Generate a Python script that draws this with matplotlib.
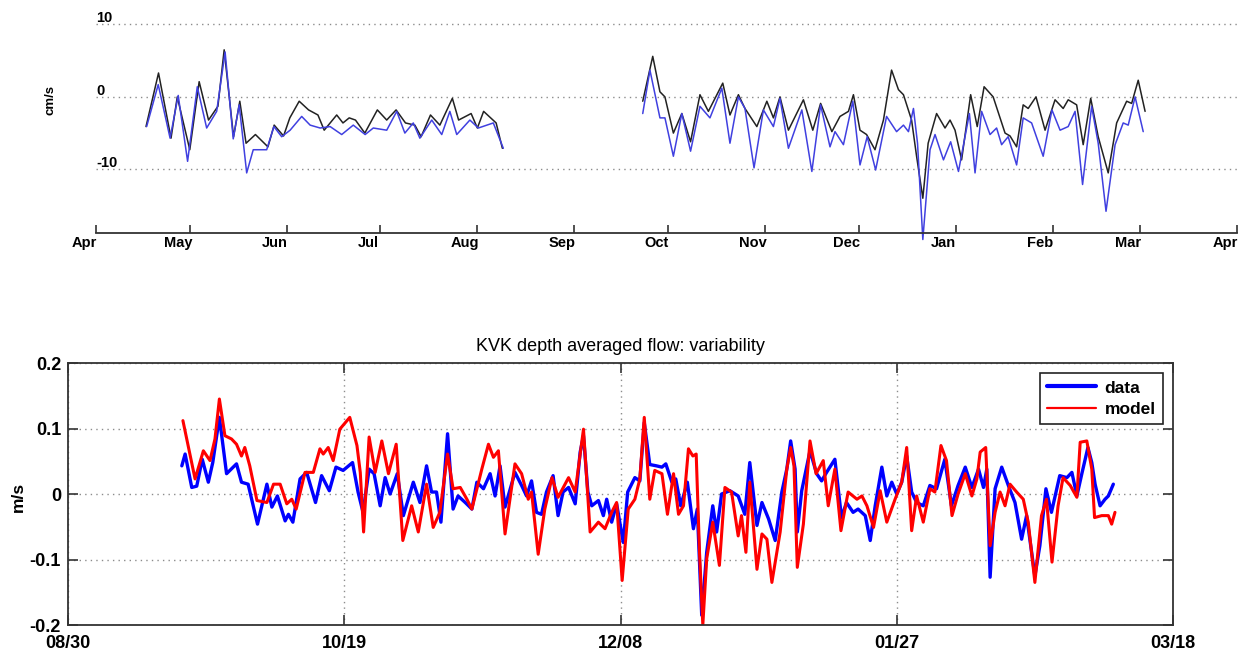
import numpy as np
import matplotlib
matplotlib.use("Agg")
import matplotlib.pyplot as plt
import matplotlib.dates as mdates
import matplotlib.transforms as mtransforms
from datetime import datetime

plt.rcParams["font.family"] = ["Liberation Sans", "DejaVu Sans"]

# ---------------- upper panel: cm/s, days since 1 Apr 2010 ----------------
top_start = datetime(2010, 4, 1)

# spring/summer record
black1_day = [16, 20, 24, 26, 30, 33, 36, 39, 41, 44, 46, 48, 51, 55, 57, 60, 62, 65, 68, 71,
              73, 77, 79, 81, 83, 86, 90, 93, 96, 99, 102, 104, 107, 110, 114, 116, 120, 122,
              124, 128, 130]
black1_val = [-4.1, 3.3, -5.7, 0.0, -7.3, 2.1, -3.2, -1.3, 6.5, -5.5, -0.6, -6.4, -5.2, -6.9,
              -3.9, -5.4, -2.9, -0.6, -1.8, -2.5, -4.6, -2.5, -3.6, -2.9, -3.2, -5.0, -1.8,
              -3.2, -1.8, -3.6, -3.9, -5.5, -2.5, -3.9, -0.2, -3.2, -2.3, -4.3, -2.0, -3.6, -7.1]
blue1_day = [16.2, 19.9, 23.7, 26.3, 29.3, 32.4, 35.4, 38.6, 41.3, 43.9, 45.8, 48.2, 50.3, 54.6,
             56.9, 59.4, 62.1, 65.8, 68.5, 71.7, 74.9, 78.6, 82.3, 86.1, 88.7, 93.0, 96.2, 98.8,
             101.5, 103.6, 107.4, 110.6, 113.2, 115.4, 119.6, 122.3, 127.1, 130.3]
blue1_val = [-4.1, 1.7, -5.7, 0.2, -8.9, 1.4, -4.3, -2.0, 6.2, -5.8, -1.1, -10.5, -7.3, -7.3,
             -4.1, -5.5, -4.6, -2.7, -3.9, -4.3, -4.1, -5.2, -3.9, -5.2, -4.3, -4.6, -2.0, -5.0,
             -3.6, -5.7, -3.2, -5.2, -2.0, -5.2, -3.2, -4.3, -3.6, -7.1]

# autumn/winter record
black2_day = [174.9, 178.1, 180.4, 182.0, 184.7, 187.4, 190.2, 193.2, 195.9, 200.5, 202.8, 205.5,
              207.6, 211.4, 214.6, 216.7, 218.8, 221.5, 226.3, 229.3, 231.8, 235.4, 238.0, 240.7,
              242.3, 244.4, 246.5, 249.2, 251.9, 254.5, 256.7, 258.3, 260.9, 262.5, 264.5, 266.2,
              268.9, 271.6, 273.2, 274.8, 276.9, 279.8, 281.9, 284.1, 287.0, 290.8, 292.4, 294.5,
              296.6, 298.2, 300.7, 303.6, 306.8, 309.4, 311.0, 313.7, 315.8, 318.2, 320.6, 323.8,
              326.5, 329.7, 331.3, 333.4, 335.6]
black2_val = [-0.6, 5.6, 0.7, 0.0, -5.0, -2.3, -6.2, 0.3, -2.0, 1.9, -2.5, 0.3, -1.6, -4.1, -0.6,
              -2.9, 0.0, -4.6, -0.4, -4.6, -0.9, -4.8, -2.7, -2.0, 0.3, -4.6, -5.2, -7.3, -3.2,
              3.7, 1.0, 0.3, -3.2, -8.2, -14.0, -6.4, -2.3, -4.3, -3.2, -4.6, -8.7, 0.3, -4.1,
              1.4, 0.0, -5.0, -5.4, -6.9, -1.1, -1.6, 0.0, -4.6, -0.4, -1.6, -0.4, -1.1, -6.6,
              -0.2, -5.5, -10.5, -3.6, -0.6, -0.9, 2.3, -2.0]
blue2_day = [174.9, 177.2, 180.4, 182.0, 184.7, 187.4, 190.2, 193.2, 196.4, 200.2, 202.8, 205.5,
             207.6, 210.5, 213.5, 216.7, 218.8, 221.5, 225.8, 229.0, 231.8, 234.8, 236.4, 239.1,
             242.1, 244.4, 246.7, 249.4, 252.9, 256.1, 258.3, 259.9, 261.5, 262.8, 264.5, 266.8,
             268.4, 271.1, 273.4, 275.9, 279.4, 281.2, 283.3, 286.0, 288.1, 289.7, 291.8, 294.5,
             296.6, 299.3, 303.0, 305.8, 308.4, 311.0, 313.2, 315.6, 318.5, 320.6, 323.1, 326.0,
             328.6, 330.2, 332.4, 335.0]
blue2_val = [-2.3, 3.7, -2.9, -2.9, -8.2, -2.3, -7.5, -1.3, -2.9, 1.2, -6.4, 0.0, -1.6, -9.8,
             -1.8, -4.1, -0.2, -7.1, -1.8, -10.3, -1.1, -6.9, -4.8, -6.6, -0.6, -9.4, -5.5,
             -10.1, -2.7, -4.8, -3.9, -4.8, -1.6, -6.4, -19.7, -7.3, -5.2, -8.7, -6.2, -10.3,
             -2.3, -10.5, -2.0, -5.2, -4.3, -6.6, -5.5, -9.4, -2.9, -3.6, -8.2, -1.8, -4.6, -4.1,
             -2.0, -12.1, -1.3, -6.4, -15.8, -6.6, -3.6, -3.9, 0.0, -4.8]

top_yticks = [-10, 0, 10]
top_ylabels = ["-10", "0", "10"]

# ---------------- lower panel: m/s, days since 30 Aug 2010 ----------------
bot_start = datetime(2010, 8, 30)

data_day = [20.6, 21.2, 22.4, 23.3, 24.3, 25.4, 26.2, 27.4, 28.7, 30.5, 31.4, 32.6, 34.3, 36.0,
            36.9, 37.9, 39.3, 39.9, 40.7, 42.0, 43.2, 44.8, 45.9, 47.3, 48.5, 49.8, 51.5, 52.5,
            53.4, 54.5, 55.4, 56.5, 57.4, 58.3, 59.6, 60.7, 62.5, 63.7, 64.9, 65.8, 66.7, 67.5,
            68.7, 69.7, 70.6, 71.9, 73.1, 74.0, 75.2, 76.4, 77.3, 78.2, 79.1, 80.9, 82.1, 83.0,
            83.9, 84.8, 85.7, 86.6, 87.8, 88.7, 89.6, 90.6, 91.8, 92.7, 93.3, 94.1, 94.8, 96.0,
            96.9, 97.5, 98.4, 99.3, 100.5, 101.3, 102.6, 103.5, 104.3, 105.3, 106.5, 107.5,
            108.2, 109.3, 110.0, 110.9, 112.1, 113.2, 113.9, 114.7, 115.6, 116.7, 117.4, 118.3,
            119.8, 121.3, 122.5, 123.4, 124.7, 125.6, 126.8, 128.0, 129.2, 130.1, 130.8, 131.6,
            132.0, 132.8, 134.3, 135.5, 136.4, 137.3, 138.8, 140.0, 140.9, 142.1, 143.0, 144.3,
            145.2, 146.1, 147.3, 148.2, 149.1, 150.0, 150.9, 151.8, 152.7, 153.6, 154.8, 156.0,
            157.2, 158.7, 159.9, 161.1, 162.4, 163.6, 164.8, 165.7, 166.3, 166.9, 167.8, 169.0,
            170.2, 171.4, 172.6, 173.5, 175.0, 175.9, 177.0, 178.0, 179.5, 180.8, 181.7, 182.6,
            183.5, 184.6, 185.3, 185.9, 186.8, 187.7, 188.3, 189.2]
data_val = [0.043, 0.061, 0.010, 0.012, 0.053, 0.018, 0.048, 0.117, 0.031, 0.046, 0.018, 0.015,
            -0.046, 0.015, -0.020, -0.003, -0.041, -0.031, -0.043, 0.023, 0.033, -0.013, 0.028,
            0.005, 0.041, 0.036, 0.048, 0.003, -0.028, 0.038, 0.031, -0.018, 0.025, 0.000, 0.031,
            -0.033, 0.018, -0.013, 0.043, 0.003, 0.003, -0.043, 0.092, -0.023, -0.003, -0.013,
            -0.023, 0.018, 0.008, 0.031, -0.003, 0.043, -0.020, 0.033, 0.013, -0.003, 0.020,
            -0.028, -0.031, 0.003, 0.028, -0.033, 0.003, 0.010, -0.015, 0.064, 0.089, 0.003,
            -0.018, -0.010, -0.033, -0.008, -0.043, -0.015, -0.074, 0.003, 0.025, 0.020, 0.109,
            0.045, 0.043, 0.041, 0.046, 0.018, 0.023, -0.018, 0.018, -0.053, -0.023, -0.185,
            -0.089, -0.018, -0.058, 0.000, 0.005, -0.003, -0.031, 0.048, -0.048, -0.013, -0.038,
            -0.071, 0.003, 0.038, 0.081, 0.038, -0.058, 0.005, 0.066, 0.031, 0.020, 0.033, 0.053,
            -0.036, -0.013, -0.028, -0.023, -0.033, -0.071, -0.018, 0.041, -0.003, 0.018, 0.000,
            0.018, 0.058, 0.003, -0.013, -0.018, 0.013, 0.008, 0.053, -0.018, 0.013, 0.041,
            0.010, 0.038, 0.010, 0.038, -0.127, 0.008, 0.041, 0.013, -0.013, -0.069, -0.033,
            -0.125, -0.079, 0.008, -0.028, 0.028, 0.025, 0.033, -0.003, 0.031, 0.071, 0.048,
            0.015, -0.018, -0.008, -0.003, 0.015]

model_day = [20.8, 23.0, 24.5, 25.7, 26.6, 27.4, 28.4, 29.6, 30.5, 31.4, 32.0, 32.9, 34.2, 36.0,
             37.2, 38.4, 39.6, 40.5, 41.3, 42.9, 44.4, 45.6, 46.2, 47.1, 48.0, 49.2, 51.0, 52.3,
             52.9, 53.5, 54.5, 55.6, 56.8, 58.0, 59.4, 60.6, 62.2, 63.4, 64.9, 66.1, 67.3, 68.7,
             69.7, 71.0, 72.2, 73.1, 74.9, 76.1, 77.0, 77.9, 79.1, 80.9, 82.1, 83.3, 83.9, 85.1,
             86.3, 87.6, 88.7, 90.6, 91.8, 93.3, 94.5, 96.0, 97.2, 98.4, 99.3, 100.3, 101.4,
             102.6, 103.5, 104.3, 105.3, 106.2, 107.5, 108.5, 109.6, 110.5, 111.4, 112.3, 113.1,
             113.7, 114.3, 114.9, 115.6, 116.7, 117.9, 118.9, 120.1, 121.3, 121.9, 122.7, 123.4,
             124.7, 125.6, 126.5, 127.4, 128.9, 130.1, 130.8, 131.4, 132.0, 133.1, 134.3, 135.4,
             136.7, 137.6, 138.8, 139.9, 141.2, 142.8, 143.7, 144.6, 145.8, 147.0, 148.2, 149.7,
             150.9, 151.8, 152.7, 153.6, 154.8, 156.0, 156.9, 158.0, 159.0, 160.0, 161.1, 162.4,
             163.6, 164.5, 165.1, 166.1, 166.9, 167.8, 168.7, 169.6, 170.5, 171.7, 172.9, 173.8,
             175.0, 176.2, 177.1, 178.1, 179.2, 180.1, 181.4, 182.6, 183.2, 184.4, 185.3, 185.8,
             187.1, 188.3, 188.9, 189.5]
model_val = [0.112, 0.023, 0.066, 0.051, 0.084, 0.145, 0.089, 0.084, 0.076, 0.058, 0.071, 0.043,
             -0.010, -0.013, 0.015, 0.015, -0.015, -0.008, -0.023, 0.033, 0.033, 0.069, 0.061,
             0.071, 0.051, 0.099, 0.117, 0.074, 0.033, -0.058, 0.087, 0.033, 0.081, 0.031, 0.076,
             -0.071, -0.018, -0.058, 0.015, -0.051, -0.028, 0.061, 0.008, 0.010, -0.008, -0.023,
             0.038, 0.076, 0.056, 0.066, -0.061, 0.046, 0.031, -0.008, 0.003, -0.092, -0.023,
             0.025, -0.005, 0.025, 0.003, 0.099, -0.058, -0.043, -0.053, -0.028, -0.013, -0.132,
             -0.023, -0.008, 0.023, 0.117, -0.008, 0.036, 0.031, -0.031, 0.031, -0.031, -0.018,
             0.069, 0.058, 0.061, -0.089, -0.200, -0.099, -0.043, -0.109, 0.010, 0.003, -0.064,
             -0.033, -0.089, 0.018, -0.115, -0.061, -0.069, -0.135, -0.058, 0.038, 0.071, 0.043,
             -0.112, -0.046, 0.081, 0.031, 0.051, -0.018, 0.038, -0.056, 0.003, -0.008, -0.003,
             -0.018, -0.051, 0.005, -0.043, -0.008, 0.018, 0.071, -0.056, -0.003, -0.043, 0.008,
             0.003, 0.074, 0.051, -0.033, 0.000, 0.031, -0.003, 0.023, 0.064, 0.071, -0.079,
             -0.028, 0.003, -0.018, 0.015, 0.003, -0.008, -0.043, -0.135, -0.033, -0.008, -0.104,
             -0.018, 0.025, 0.013, -0.005, 0.079, 0.081, 0.038, -0.036, -0.033, -0.033, -0.046,
             -0.028]

bot_tick_days = [0, 50, 100, 150, 200]
bot_yticks = [-0.2, -0.1, 0, 0.1, 0.2]
bot_ylabels = ["-0.2", "-0.1", "0", "0.1", "0.2"]

# ---------------- figure ----------------
fig = plt.figure(figsize=(12.43, 6.5), dpi=100)
axis_col = "#333333"
grid_col = "#8c8c8c"
line_kw = dict(solid_joinstyle="round", solid_capstyle="round")

# upper panel
t0 = mdates.date2num(top_start)
ax1 = fig.add_axes([96 / 1243, 1 - 233 / 650, 1141 / 1243, 223 / 650])
ax1.plot(t0 + np.array(black1_day), black1_val, color="#222222", lw=1.1, clip_on=False, **line_kw)
ax1.plot(t0 + np.array(black2_day), black2_val, color="#222222", lw=1.1, clip_on=False, **line_kw)
ax1.plot(t0 + np.array(blue1_day), blue1_val, color="#4040e0", lw=1.1, clip_on=False, **line_kw)
ax1.plot(t0 + np.array(blue2_day), blue2_val, color="#4040e0", lw=1.1, clip_on=False, **line_kw)

ax1.set_xlim(t0, mdates.date2num(datetime(2011, 4, 1)))
ax1.set_ylim(-18.8, 12)
for side in ("left", "right", "top"):
    ax1.spines[side].set_visible(False)
ax1.spines["bottom"].set_color(axis_col)
ax1.spines["bottom"].set_linewidth(1.3)

month_starts = [datetime(2010 + (m > 12), (m - 1) % 12 + 1, 1) for m in range(4, 17)]
ax1.set_xticks(mdates.date2num(month_starts))
ax1.xaxis.set_major_formatter(mdates.DateFormatter("%b"))
ax1.tick_params(axis="x", direction="in", length=6, width=1.2, color=axis_col,
                labelsize=10.5, pad=2)
shift_left = mtransforms.ScaledTranslation(-0.12, 0, fig.dpi_scale_trans)
for lab in ax1.get_xticklabels():
    lab.set_fontweight("bold")
    lab.set_transform(lab.get_transform() + shift_left)

ax1.set_yticks(top_yticks)
ax1.set_yticklabels(top_ylabels)
ax1.tick_params(axis="y", length=0, pad=0, labelsize=10.5)
shift_up = mtransforms.ScaledTranslation(0, 0.075, fig.dpi_scale_trans)
for lab in ax1.get_yticklabels():
    lab.set_fontweight("bold")
    lab.set_horizontalalignment("left")
    lab.set_transform(lab.get_transform() + shift_up)
ax1.yaxis.grid(True, linestyle=(0, (1, 3)), color=grid_col, lw=1.0)
ax1.xaxis.grid(False)
fig.text(50 / 1243, 1 - 100 / 650, "cm/s", rotation=90, ha="center", va="center",
         fontsize=9.5, fontweight="bold")

# lower panel
b0 = mdates.date2num(bot_start)
ax2 = fig.add_axes([68 / 1243, 1 - 625 / 650, 1105 / 1243, 262 / 650])
ax2.plot(b0 + np.array(data_day), data_val, color="#0000ff", lw=2.4, label="data", **line_kw)
ax2.plot(b0 + np.array(model_day), model_val, color="#ff0000", lw=2.2, label="model", **line_kw)
ax2.set_xlim(b0, b0 + 200)
ax2.set_ylim(-0.2, 0.2)
ax2.set_xticks(b0 + np.array(bot_tick_days))
ax2.xaxis.set_major_formatter(mdates.DateFormatter("%m/%d"))
ax2.set_yticks(bot_yticks)
ax2.set_yticklabels(bot_ylabels)
ax2.tick_params(axis="both", direction="in", length=7, width=1.2, color=axis_col,
                top=True, right=True, labelsize=13)
ax2.tick_params(axis="x", pad=7)
ax2.tick_params(axis="y", pad=5)
for lab in ax2.get_xticklabels() + ax2.get_yticklabels():
    lab.set_fontweight("bold")
for sp in ax2.spines.values():
    sp.set_color(axis_col)
    sp.set_linewidth(1.3)
ax2.grid(True, linestyle=(0, (1, 3)), color=grid_col, lw=1.0)
ax2.set_title("KVK depth averaged flow: variability", fontsize=13, pad=9)
fig.text(18 / 1243, 1 - 497 / 650, "m/s", rotation=90, ha="center", va="center",
         fontsize=12.5, fontweight="bold")

handles, labels = ax2.get_legend_handles_labels()
leg = ax2.legend(handles, labels, loc="upper right", fontsize=12.5, frameon=True,
                 fancybox=False, edgecolor="#222222", framealpha=1, handlelength=2.8,
                 borderaxespad=0.6, labelspacing=0.35, handletextpad=0.5, borderpad=0.4)
leg.get_frame().set_linewidth(1.2)
for txt in leg.get_texts():
    txt.set_fontweight("bold")
leg.get_lines()[0].set_linewidth(3.0)
leg.get_lines()[1].set_linewidth(1.6)

fig.savefig("out.png", dpi=100)
